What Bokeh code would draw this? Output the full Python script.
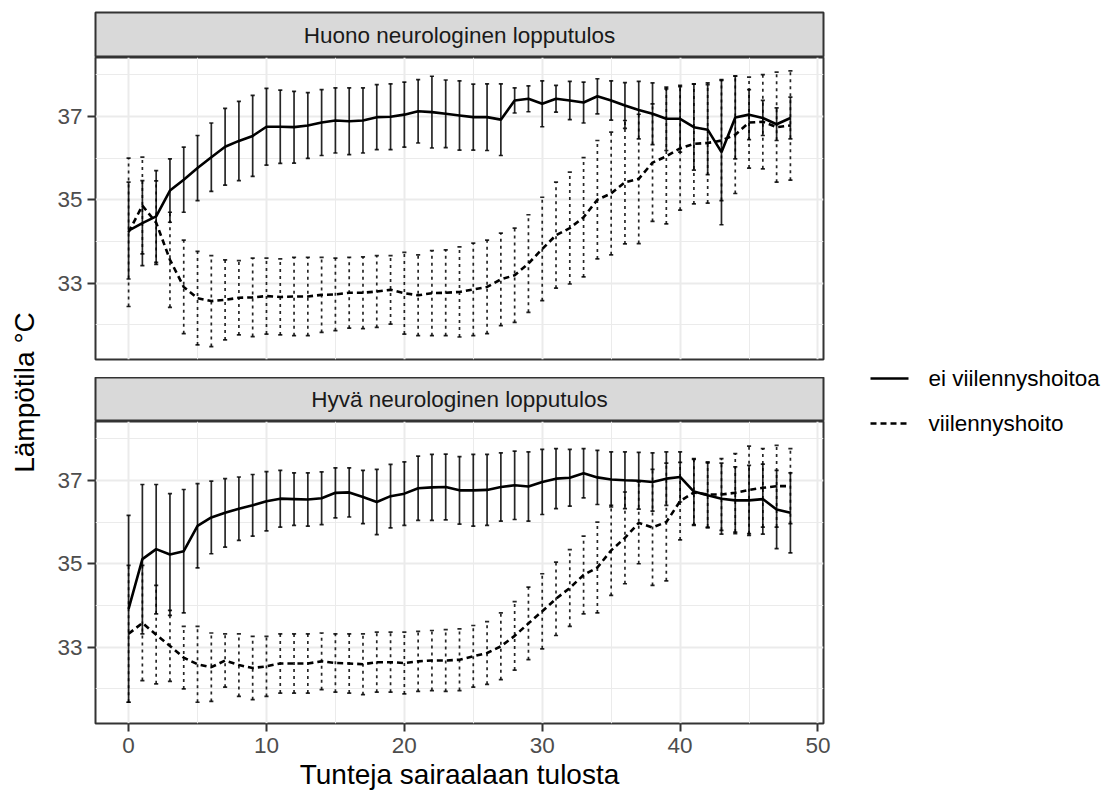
from bokeh.plotting import figure
from bokeh.layouts import row, column
from bokeh.models import FixedTicker, Range1d, ColumnDataSource
from bokeh.core.properties import value
from bokeh.embed import file_html
from bokeh.resources import INLINE

# ---------------- data ----------------
hours = list(range(49))
panel_titles = ["Huono neurologinen lopputulos", "Hyvä neurologinen lopputulos"]
series_labels = ["ei viilennyshoitoa", "viilennyshoito"]
x_title = "Tunteja sairaalaan tulosta"
y_title = "Lämpötila °C"
x_ticks = [0, 10, 20, 30, 40, 50]
y_ticks = [33, 35, 37]

huono_ei_mean = [34.26, 34.44, 34.6, 35.22, 35.48, 35.76, 36.02, 36.27, 36.41, 36.53,
                 36.75, 36.75, 36.74, 36.78, 36.85, 36.9, 36.88, 36.9, 36.98, 36.99,
                 37.04, 37.12, 37.1, 37.06, 37.02, 36.98, 36.98, 36.92, 37.38, 37.42,
                 37.3, 37.42, 37.38, 37.33, 37.48, 37.38, 37.26, 37.15, 37.06, 36.94,
                 36.94, 36.74, 36.68, 36.14, 36.97, 37.04, 36.96, 36.81, 36.96]
huono_ei_sd = [1.16, 1.02, 1.1, 0.76, 0.78, 0.78, 0.82, 0.92, 0.95, 0.97,
               0.92, 0.88, 0.86, 0.79, 0.79, 0.78, 0.8, 0.78, 0.78, 0.79,
               0.78, 0.76, 0.86, 0.81, 0.83, 0.79, 0.8, 0.86, 0.3, 0.31,
               0.55, 0.32, 0.46, 0.49, 0.42, 0.47, 0.55, 0.69, 0.74, 0.76,
               0.8, 1.03, 1.08, 1.74, 0.99, 0.6, 0.42, 0.39, 0.5]
huono_vii_mean = [34.22, 34.86, 34.45, 33.56, 32.91, 32.64, 32.57, 32.6, 32.65, 32.66,
                  32.69, 32.67, 32.68, 32.68, 32.72, 32.73, 32.77, 32.77, 32.8, 32.84,
                  32.76, 32.71, 32.76, 32.77, 32.79, 32.85, 32.91, 33.09, 33.19, 33.47,
                  33.82, 34.15, 34.32, 34.58, 35.0, 35.15, 35.42, 35.5, 35.89, 36.04,
                  36.23, 36.34, 36.36, 36.42, 36.56, 36.85, 36.87, 36.74, 36.78]
huono_vii_sd = [1.78, 1.16, 1.0, 1.14, 1.12, 1.12, 1.09, 0.96, 0.89, 0.94,
                0.91, 0.91, 0.94, 0.94, 0.9, 0.87, 0.85, 0.86, 0.86, 0.82,
                0.98, 0.97, 1.02, 1.03, 1.08, 1.11, 1.12, 1.11, 1.13, 1.17,
                1.24, 1.27, 1.34, 1.43, 1.42, 1.47, 1.48, 1.55, 1.41, 1.62,
                1.48, 1.44, 1.44, 1.44, 1.41, 1.09, 1.13, 1.32, 1.31]
hyva_ei_mean = [33.92, 35.11, 35.35, 35.22, 35.3, 35.91, 36.11, 36.22, 36.32, 36.4,
                36.5, 36.56, 36.55, 36.54, 36.57, 36.7, 36.71, 36.6, 36.48, 36.62,
                36.68, 36.81, 36.83, 36.84, 36.76, 36.76, 36.77, 36.84, 36.88, 36.85,
                36.96, 37.04, 37.06, 37.17, 37.07, 37.02, 37.0, 36.99, 36.96, 37.04,
                37.08, 36.73, 36.64, 36.56, 36.52, 36.52, 36.55, 36.3, 36.22]
hyva_ei_sd = [2.24, 1.79, 1.55, 1.46, 1.48, 1.01, 0.87, 0.82, 0.76, 0.74,
              0.71, 0.68, 0.63, 0.64, 0.63, 0.6, 0.59, 0.64, 0.78, 0.76,
              0.76, 0.77, 0.79, 0.79, 0.81, 0.86, 0.85, 0.82, 0.82, 0.83,
              0.78, 0.72, 0.68, 0.59, 0.65, 0.66, 0.68, 0.68, 0.7, 0.64,
              0.6, 0.79, 0.78, 0.85, 0.8, 0.84, 0.84, 0.94, 0.96]
hyva_vii_mean = [33.32, 33.58, 33.3, 33.03, 32.75, 32.59, 32.52, 32.68, 32.57, 32.5,
                 32.54, 32.61, 32.61, 32.61, 32.66, 32.62, 32.61, 32.59, 32.64, 32.64,
                 32.62, 32.66, 32.68, 32.68, 32.7, 32.78, 32.86, 33.02, 33.27, 33.57,
                 33.86, 34.16, 34.42, 34.73, 34.91, 35.32, 35.62, 35.98, 35.87, 36.0,
                 36.5, 36.71, 36.66, 36.66, 36.7, 36.77, 36.82, 36.86, 36.86]
hyva_vii_sd = [1.64, 1.38, 1.18, 0.85, 0.75, 0.91, 0.82, 0.64, 0.75, 0.76,
               0.72, 0.71, 0.71, 0.71, 0.68, 0.7, 0.71, 0.73, 0.72, 0.72,
               0.74, 0.72, 0.72, 0.74, 0.74, 0.74, 0.75, 0.8, 0.82, 0.87,
               0.9, 0.88, 0.92, 0.93, 1.09, 1.08, 1.1, 0.98, 1.39, 1.41,
               0.93, 0.79, 0.78, 0.86, 0.94, 1.05, 0.94, 0.98, 0.9]

panels = [
    [(huono_ei_mean, huono_ei_sd), (huono_vii_mean, huono_vii_sd)],
    [(hyva_ei_mean, hyva_ei_sd), (hyva_vii_mean, hyva_vii_sd)],
]

# ---------------- style ----------------
FONT = "Liberation Sans"
SMALL = "22.5px"
BIG = "28px"
FRAME_W = 728
LEFT = 40
RIGHT = 10
X_RANGE = Range1d(-2.4, 50.4)
Y_RANGE = Range1d(31.17, 38.41)
CAP = 0.15
line_styles = [dict(line_dash="solid"), dict(line_dash="6 4")]
bar_styles = [dict(line_dash="solid"), dict(line_dash="3 4")]


def base_fig(h, top=0, bottom=0, **kw):
    p = figure(frame_width=FRAME_W, frame_height=h, min_border_left=LEFT,
               min_border_right=RIGHT, min_border_top=top, min_border_bottom=bottom,
               toolbar_location=None, output_backend="svg", **kw)
    p.border_fill_color = "white"
    return p


def strip(label, top, h):
    p = base_fig(h, top=top, x_range=Range1d(0, 1), y_range=Range1d(0, 1),
                 x_axis_location=None, y_axis_location=None)
    p.grid.visible = False
    p.background_fill_color = "#D9D9D9"
    p.outline_line_color = "#333333"
    p.outline_line_width = 2
    p.text(x=[0.5], y=[0.5], text=[label], text_align="center", text_baseline="middle",
           text_font=value(FONT), text_font_size=SMALL, text_color="#1A1A1A")
    return p


def panel(series, bottom, show_x):
    p = base_fig(302, bottom=bottom, x_range=X_RANGE, y_range=Y_RANGE,
                 x_axis_location="below" if show_x else None)
    p.background_fill_color = "white"
    p.outline_line_color = "#333333"
    p.outline_line_width = 2
    p.xgrid.ticker = FixedTicker(ticks=x_ticks, minor_ticks=[5, 15, 25, 35, 45])
    p.ygrid.ticker = FixedTicker(ticks=y_ticks, minor_ticks=[32, 34, 36, 38])
    for g in (p.xgrid[0], p.ygrid[0]):
        g.grid_line_color = "#EBEBEB"
        g.grid_line_width = 2
        g.minor_grid_line_color = "#EBEBEB"
        g.minor_grid_line_width = 1
    axes = list(p.yaxis) + (list(p.xaxis) if show_x else [])
    for ax in axes:
        ax.axis_line_color = None
        ax.major_tick_line_color = "#333333"
        ax.major_tick_line_width = 2
        ax.major_tick_out = 8
        ax.major_tick_in = 0
        ax.minor_tick_line_color = None
        ax.major_label_text_font = FONT
        ax.major_label_text_font_size = SMALL
        ax.major_label_text_color = "#4D4D4D"
    p.yaxis.ticker = FixedTicker(ticks=y_ticks)
    p.yaxis.major_label_standoff = 5
    if show_x:
        p.xaxis.ticker = FixedTicker(ticks=x_ticks)
        p.xaxis.major_label_standoff = 6
        p.xaxis.axis_label = x_title
        p.xaxis.axis_label_text_font = FONT
        p.xaxis.axis_label_text_font_size = BIG
        p.xaxis.axis_label_text_font_style = "normal"
        p.xaxis.axis_label_text_color = "black"
        p.xaxis.axis_label_standoff = 3
    # error bars (mean +/- sd)
    for (mean, sd), st in zip(series, bar_styles):
        lo = [m - s for m, s in zip(mean, sd)]
        hi = [m + s for m, s in zip(mean, sd)]
        src = ColumnDataSource(dict(x=hours, lo=lo, hi=hi,
                                    xl=[h - CAP for h in hours], xr=[h + CAP for h in hours]))
        p.segment(x0="x", y0="lo", x1="x", y1="hi", source=src, line_color="black",
                  line_width=1.7, line_alpha=0.85, **st)
        p.segment(x0="xl", y0="hi", x1="xr", y1="hi", source=src, line_color="black",
                  line_width=1.7, line_alpha=0.85)
        p.segment(x0="xl", y0="lo", x1="xr", y1="lo", source=src, line_color="black",
                  line_width=1.7, line_alpha=0.85)
    for (mean, sd), st in zip(series, line_styles):
        p.line(x=hours, y=mean, line_color="black", line_width=2.6, **st)
    return p


strip1 = strip(panel_titles[0], 12, 45)
panel1 = panel(panels[0], 18, False)
strip2 = strip(panel_titles[1], 0, 44)
panel2 = panel(panels[1], 72, True)

TOTAL_H = 57 + 320 + 44 + 302 + 72
YLAB_W = 54
ylab = figure(width=YLAB_W, height=TOTAL_H, x_range=Range1d(0, YLAB_W), y_range=Range1d(TOTAL_H, 0),
              x_axis_location=None, y_axis_location=None, toolbar_location=None,
              output_backend="svg", min_border=0)
ylab.grid.visible = False
ylab.outline_line_color = None
ylab.text(x=[24], y=[392], text=[y_title], angle=1.5707963, text_align="center",
          text_baseline="middle", text_font=value(FONT), text_font_size=BIG, text_color="black")

LEG_W = 268
leg = figure(width=LEG_W, height=TOTAL_H, x_range=Range1d(0, LEG_W), y_range=Range1d(TOTAL_H, 0),
             x_axis_location=None, y_axis_location=None, toolbar_location=None,
             output_backend="svg", min_border=0)
leg.grid.visible = False
leg.outline_line_color = None
leg_y = [378, 423]
for lab, yy, st in zip(series_labels, leg_y, line_styles):
    leg.line(x=[37, 75], y=[yy, yy], line_color="black", line_width=2.6, **st)
    leg.text(x=[95], y=[yy], text=[lab], text_align="left", text_baseline="middle",
             text_font=value(FONT), text_font_size=SMALL, text_color="black")

main = column(strip1, panel1, strip2, panel2, spacing=0)
layout = row(ylab, main, leg, spacing=0)

open("out.html", "w").write(file_html(layout, INLINE))
